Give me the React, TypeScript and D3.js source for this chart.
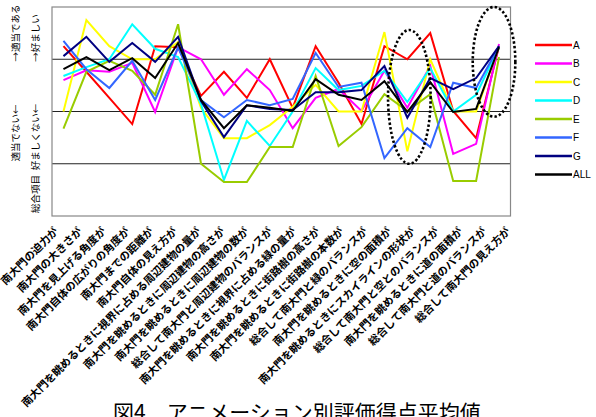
import React from "react";
import * as d3 from "d3";

const categories = [
  "南大門の迫力が",
  "南大門の大きさが",
  "南大門を見上げる角度が",
  "南大門自体の広がりの角度が",
  "南大門までの距離が",
  "南大門自体の見え方が",
  "南大門を眺めるときに視界に占める周辺建物の量が",
  "南大門を眺めるときに周辺建物の高さが",
  "南大門を眺めるときに周辺建物の数が",
  "総合して南大門と周辺建物のバランスが",
  "南大門を眺めるときに視界に占める緑の量が",
  "南大門を眺めるときに街路樹の高さが",
  "南大門を眺めるときに街路樹の本数が",
  "総合して南大門と緑のバランスが",
  "南大門を眺めるときに空の面積が",
  "南大門を眺めるときにスカイラインの形状が",
  "総合して南大門と空とのバランスが",
  "南大門を眺めるときに道の面積が",
  "総合して南大門と道のバランスが",
  "総合して南大門の見え方が",
];

const seriesNames = ["A", "B", "C", "D", "E", "F", "G", "ALL"];
const seriesColors = ["#FF0000", "#FF00FF", "#FFFF00", "#00FFFF", "#99CC00", "#3366FF", "#000080", "#000000"];

const valuesA = [1.25, 0.76, 0.26, -0.24, 1.25, 1.23, 0.3, 0.76, 0.26, 1.0, 0.07, 1.25, 0.55, -0.24, 1.25, 1.0, 1.5, 0.01, -0.51, 1.25];
const valuesB = [0.6, 0.79, 0.76, 0.93, -0.01, 1.23, 1.0, 0.32, 0.81, 0.41, -0.32, 0.26, 0.43, 0.01, 0.78, 0.07, 0.87, -0.81, -0.62, 1.29];
const valuesC = [0.0, 1.75, 1.25, 1.0, 1.0, 1.33, 0.07, -0.51, -0.51, -0.26, 0.09, 0.51, 0.0, 0.0, 1.52, -0.76, 1.0, 0.0, 0.0, 1.25];
const valuesD = [0.68, 0.85, 1.0, 1.67, 1.2, 1.04, 0.14, -1.31, -0.18, -0.66, 0.0, 0.83, 0.41, 0.49, 0.78, 0.18, 0.83, 0.0, 0.32, 1.23];
const valuesE = [-0.33, 0.76, 0.97, 0.78, 0.32, 1.67, -1.0, -1.35, -1.35, -0.68, -0.68, 0.68, -0.66, -0.3, 0.33, 0.01, 0.33, -1.33, -1.33, 1.04];
const valuesF = [1.35, 0.81, 0.45, 0.97, 0.22, 1.23, 0.22, -0.11, 0.22, 0.12, 0.24, 1.12, 0.47, 0.55, -0.89, -0.32, -0.68, 0.55, 0.45, 1.25];
const valuesG = [1.06, 1.43, 0.95, 1.31, 0.95, 1.43, 0.2, -0.49, 0.12, 0.05, 0.03, 0.37, 0.37, 0.41, 0.87, -0.12, 0.64, 0.43, 0.64, 1.25];
const valuesALL = [0.81, 1.04, 0.79, 1.02, 0.64, 1.31, 0.22, -0.32, 0.12, 0.07, 0.01, 0.62, 0.32, 0.22, 0.58, -0.01, 0.56, -0.01, 0.05, 1.23];

const allSeries = [valuesA, valuesB, valuesC, valuesD, valuesE, valuesF, valuesG, valuesALL];

const yDomain = [-2, 2];
const gridValues = [-1, 0, 1];

// dotted ellipse annotations: category index, top and bottom value
const highlightIndex = [15, 19];
const highlightTop = [1.56, 2.0];
const highlightBottom = [-1.0, -0.1];

const yLabelsLeft = ["→適当である", "適当でない←"];
const yLabelsRight = ["→好ましい", "好ましくない←", "総合項目"];
const title = "図4　アニメーション別評価得点平均値";

export default function App() {
  const W = 596;
  const H = 417;
  const plot = { left: 52, right: 510.5, top: 7, bottom: 216 };

  const x = d3.scaleBand<string>().domain(categories).range([plot.left, plot.right]);
  const bw = x.bandwidth();
  const cx = (i: number) => (x(categories[i]) as number) + bw / 2;
  const y = d3.scaleLinear().domain(yDomain).range([plot.bottom, plot.top]);
  const xl = d3.scalePoint<string>().domain(categories).range([59, 511]);

  const line = d3
    .line<number>()
    .x((_, i) => cx(i))
    .y((d) => y(d));

  const fontJP = "'Noto Sans CJK JP', 'Noto Sans', sans-serif";
  const ellipseDx = [2, -5];

  return (
    <svg width={W} height={H} style={{ position: "absolute", left: 0, top: 0, background: "#fff" }}>
      <rect x={0} y={0} width={W} height={H} fill="#fff" />
      {/* gridlines */}
      {gridValues.map((g) => (
        <line key={g} x1={plot.left} x2={plot.right} y1={y(g)} y2={y(g)} stroke="#222" strokeWidth={1} />
      ))}
      {/* plot frame */}
      <rect
        x={plot.left}
        y={plot.top}
        width={plot.right - plot.left}
        height={plot.bottom - plot.top}
        fill="none"
        stroke="#888"
        strokeWidth={1.2}
      />
      {/* series */}
      {allSeries.map((vals, si) => (
        <path key={si} d={line(vals) as string} fill="none" stroke={seriesColors[si]} strokeWidth={2} strokeLinejoin="miter" />
      ))}
      {/* dotted ellipses */}
      {highlightIndex.map((ci, k) => {
        const yt = y(highlightTop[k]);
        const yb = y(highlightBottom[k]);
        return (
          <ellipse
            key={k}
            cx={cx(ci) + ellipseDx[k]}
            cy={(yt + yb) / 2}
            rx={21.3}
            ry={(yb - yt) / 2}
            fill="none"
            stroke="#000"
            strokeWidth={2.6}
            strokeDasharray="2.4 2.2"
          />
        );
      })}
      {/* x labels */}
      {categories.map((c) => {
        const ax = xl(c) as number;
        const ay = 232;
        return (
          <text
            key={c}
            x={ax}
            y={ay}
            transform={`rotate(-45 ${ax} ${ay})`}
            textAnchor="end"
            fontFamily={fontJP}
            fontWeight="bold"
            fontSize={10.8}
            fill="#000"
          >
            {c}
          </text>
        );
      })}
      {/* y labels */}
      {[33, 133].map((cy, i) => (
        <text
          key={"l" + i}
          x={0}
          y={0}
          transform={`translate(15 ${cy}) rotate(-90)`}
          textAnchor="middle"
          dominantBaseline="central"
          fontFamily={fontJP}
          fontSize={9.5}
          fill="#000"
        >
          {yLabelsLeft[i]}
        </text>
      ))}
      {[38, 137, 194].map((cy, i) => (
        <text
          key={"r" + i}
          x={0}
          y={0}
          transform={`translate(35 ${cy}) rotate(-90)`}
          textAnchor="middle"
          dominantBaseline="central"
          fontFamily={fontJP}
          fontSize={9.5}
          fill="#000"
        >
          {yLabelsRight[i]}
        </text>
      ))}
      {/* legend */}
      {seriesNames.map((n, i) => {
        const ly = 45 + i * 18.5;
        return (
          <g key={n}>
            <line x1={535} x2={572} y1={ly} y2={ly} stroke={seriesColors[i]} strokeWidth={2.4} />
            <text x={573} y={ly} dominantBaseline="central" fontFamily="'Liberation Sans', Arial, sans-serif" fontSize={10} fill="#000">
              {n}
            </text>
          </g>
        );
      })}
      {/* title */}
      <text x={113} y={420} fontFamily={fontJP} fontSize={21} fill="#000">
        {title}
      </text>
    </svg>
  );
}
